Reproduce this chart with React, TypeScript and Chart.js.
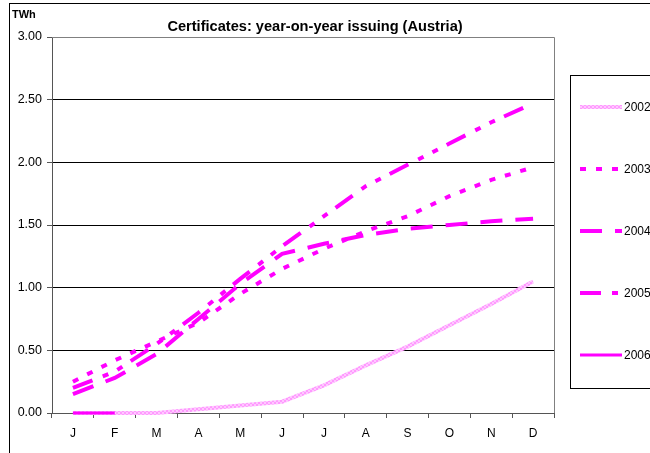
import React, { useEffect, useRef } from "react";
import { Chart, registerables } from "chart.js";

Chart.register(...registerables);

const months = ["J", "F", "M", "A", "M", "J", "J", "A", "S", "O", "N", "D"];
const seriesNames = ["2002", "2003", "2004", "2005", "2006"];
const s2002 = [0, 0, 0, 0.03, 0.06, 0.09, 0.22, 0.38, 0.53, 0.7, 0.87, 1.05];
const s2003 = [0.25, 0.42, 0.57, 0.72, 0.95, 1.15, 1.31, 1.45, 1.57, 1.73, 1.86, 1.96];
const s2004 = [0.15, 0.28, 0.47, 0.75, 1.03, 1.27, 1.35, 1.42, 1.47, 1.5, 1.53, 1.55];
const s2005 = [0.2, 0.33, 0.55, 0.8, 1.07, 1.33, 1.57, 1.81, 1.98, 2.15, 2.32, 2.47];
const s2006 = [0, 0, null, null, null, null, null, null, null, null, null, null];
const yTicks = [0, 0.5, 1, 1.5, 2, 2.5, 3];
const titleText = "Certificates: year-on-year issuing (Austria)";
const unitText = "TWh";

const FONT = "'Liberation Sans', Arial, sans-serif";

export default function App() {
  const ref = useRef<HTMLCanvasElement>(null);
  useEffect(() => {
    const canvas = ref.current!;
    const pc = document.createElement("canvas");
    pc.width = 4;
    pc.height = 4;
    const p = pc.getContext("2d")!;
    p.fillStyle = "#ffc8ff";
    p.fillRect(0, 0, 4, 4);
    p.fillStyle = "#ff99ff";
    p.fillRect(0, 0, 2, 2);
    p.fillRect(2, 2, 2, 2);
    const pattern = canvas.getContext("2d")!.createPattern(pc, "repeat")!;

    const styles = [
      { color: pattern as any, dash: [] as number[], width: 4 },
      { color: "#ff00ff", dash: [6, 10], width: 4 },
      { color: "#ff00ff", dash: [22, 13], width: 4 },
      { color: "#ff00ff", dash: [21, 11, 6, 10, 6, 10], width: 4 },
      { color: "#ff00ff", dash: [], width: 3 },
    ];
    const allData = [s2002, s2003, s2004, s2005, s2006];

    const decor = {
      id: "decor",
      afterDraw(chart: any) {
        const ctx = chart.ctx;
        const a = chart.chartArea;
        ctx.save();
        // outer frame
        ctx.strokeStyle = "#000";
        ctx.lineWidth = 1;
        ctx.strokeRect(9.5, 3.5, 700, 500);
        // plot frame top/right
        ctx.strokeStyle = "#808080";
        ctx.beginPath();
        ctx.moveTo(a.left, Math.round(a.top) + 0.5);
        ctx.lineTo(Math.round(a.right) + 0.5, Math.round(a.top) + 0.5);
        ctx.lineTo(Math.round(a.right) + 0.5, a.bottom);
        ctx.stroke();
        // title
        ctx.fillStyle = "#000";
        ctx.font = `bold 14.6px ${FONT}`;
        ctx.textAlign = "center";
        ctx.textBaseline = "middle";
        ctx.fillText(titleText, 315, 27);
        ctx.font = `bold 11px ${FONT}`;
        ctx.textAlign = "left";
        ctx.fillText(unitText, 12, 15);
        // legend
        ctx.strokeStyle = "#000";
        ctx.lineWidth = 1;
        ctx.strokeRect(570.5, 75.5, 120, 313);
        ctx.font = `12px ${FONT}`;
        seriesNames.forEach((name, i) => {
          const y = 107 + i * 62;
          const st = styles[i];
          ctx.beginPath();
          ctx.strokeStyle = st.color;
          ctx.lineWidth = st.width;
          ctx.setLineDash(st.dash);
          ctx.moveTo(580, y);
          ctx.lineTo(622, y);
          ctx.stroke();
          ctx.setLineDash([]);
          ctx.fillStyle = "#000";
          ctx.fillText(name, 624, y + 1);
        });
        ctx.restore();
      },
    };

    const chart = new Chart(canvas, {
      type: "line",
      data: {
        labels: months,
        datasets: seriesNames.map((name, i) => ({
          label: name,
          data: allData[i],
          borderColor: styles[i].color,
          backgroundColor: "#ff00ff",
          borderWidth: styles[i].width,
          borderDash: styles[i].dash,
          borderCapStyle: "butt",
          pointRadius: 0,
          tension: 0,
          fill: false,
          spanGaps: false,
          clip: false,
          order: seriesNames.length - 1 - i,
        })),
      },
      options: {
        animation: false,
        responsive: false,
        layout: { padding: { left: 0, top: 37, right: 96, bottom: 0 } },
        plugins: {
          legend: { display: false },
          title: { display: false },
          tooltip: { enabled: false },
        },
        scales: {
          x: {
            offset: true,
            afterFit(s: any) {
              s.height = 40;
            },
            grid: {
              display: true,
              offset: true,
              drawOnChartArea: false,
              drawTicks: true,
              tickLength: 5,
              color: "#555",
            },
            border: { color: "#555", width: 1 },
            ticks: {
              color: "#000",
              font: { family: FONT, size: 12 },
              padding: 8,
              maxRotation: 0,
              autoSkip: false,
            },
          },
          y: {
            min: 0,
            max: 3,
            afterFit(s: any) {
              s.width = 52;
            },
            afterBuildTicks(s: any) {
              s.ticks = yTicks.map((v) => ({ value: v }));
            },
            grid: {
              color: "#000",
              lineWidth: 1,
              drawTicks: true,
              tickLength: 5,
              tickColor: "#555",
            },
            border: { color: "#555", width: 1 },
            ticks: {
              color: "#000",
              font: { family: FONT, size: 12.5 },
              padding: 5,
              callback: (v: any) => Number(v).toFixed(2),
            },
          },
        },
      },
      plugins: [decor],
    });
    return () => chart.destroy();
  }, []);
  return (
    <div style={{ position: "absolute", left: 0, top: 0, width: 650, height: 453, background: "#fff" }}>
      <canvas ref={ref} width={650} height={453} style={{ display: "block" }} />
    </div>
  );
}
